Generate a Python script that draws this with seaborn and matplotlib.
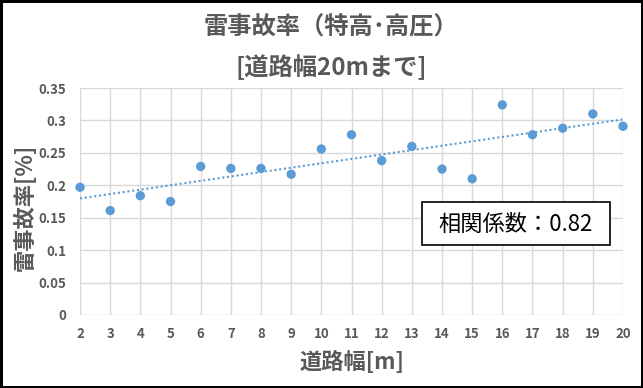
import matplotlib
matplotlib.use("Agg")
import matplotlib.pyplot as plt
import seaborn as sns
import pandas as pd
from matplotlib.ticker import FuncFormatter
from matplotlib.patches import Rectangle

# data
road_width = [2, 3, 4, 5, 6, 7, 8, 9, 10, 11, 12, 13, 14, 15, 16, 17, 18, 19, 20]
accident_rate = [0.197, 0.161, 0.184, 0.175, 0.229, 0.226, 0.226, 0.217, 0.256, 0.278,
                 0.238, 0.260, 0.225, 0.210, 0.324, 0.278, 0.288, 0.310, 0.291]
y_ticks = [0, 0.05, 0.1, 0.15, 0.2, 0.25, 0.3, 0.35]
corr_text = "相関係数：0.82"

df = pd.DataFrame({"width": road_width, "rate": accident_rate})

sns.set_style("white")
plt.rcParams["font.family"] = ["Noto Sans CJK JP", "DejaVu Sans"]

gray = "#595959"
blue = "#5B9BD5"

W, H = 643, 388
fig = plt.figure(figsize=(W / 100, H / 100), dpi=100)
fig.patch.set_facecolor("white")
fig.patch.set_edgecolor("black")
fig.patch.set_linewidth(2.5)

ax = fig.add_axes([80 / W, 1 - 315 / H, (623 - 80) / W, (315 - 88) / H])

sns.regplot(data=df, x="width", y="rate", scatter=False, ci=None, ax=ax,
            line_kws=dict(color=blue, lw=1.5, ls=(0, (1, 1.3))))
sns.scatterplot(data=df, x="width", y="rate", ax=ax, color=blue, s=45,
                edgecolor="none", zorder=3, clip_on=False)

ax.set_xlim(2, 20)
ax.set_ylim(0, 0.35)
ax.set_xticks(road_width)
ax.set_yticks(y_ticks)
ax.yaxis.set_major_formatter(FuncFormatter(lambda v, p: "0" if v == 0 else f"{v:g}"))
ax.grid(True, color="#D9D9D9", lw=1)
ax.set_axisbelow(True)
for s in ax.spines.values():
    s.set_visible(False)
ax.tick_params(length=0, labelsize=9.5, labelcolor=gray)
ax.tick_params(axis="y", pad=10)
ax.tick_params(axis="x", pad=9)
for lab in ax.get_xticklabels() + ax.get_yticklabels():
    lab.set_fontweight("bold")

ax.set_xlabel("")
ax.set_ylabel("")
fig.text(352 / W, 1 - 362 / H, "道路幅[m]", ha="center", va="center",
         fontsize=16, fontweight="bold", color=gray)
fig.text(25 / W, 1 - 207 / H, "雷事故率[%]", ha="center", va="center", rotation=90,
         fontsize=16, fontweight="bold", color=gray)

fig.text(331 / W, 1 - 27 / H, "雷事故率（特高･高圧）", ha="center", va="center",
         fontsize=17.5, fontweight="bold", color=gray)
fig.text(331 / W, 1 - 67 / H, "[道路幅20mまで]", ha="center", va="center",
         fontsize=17.5, fontweight="bold", color=gray)

# correlation box
fig.patches.append(Rectangle((422 / W, 1 - 245 / H), 188 / W, 43 / H,
                             transform=fig.transFigure, facecolor="white",
                             edgecolor="black", lw=1.2, zorder=5))
fig.text(516 / W, 1 - 224 / H, corr_text, ha="center", va="center",
         fontsize=16, color="black", zorder=6)

fig.savefig("out.png", dpi=100)
